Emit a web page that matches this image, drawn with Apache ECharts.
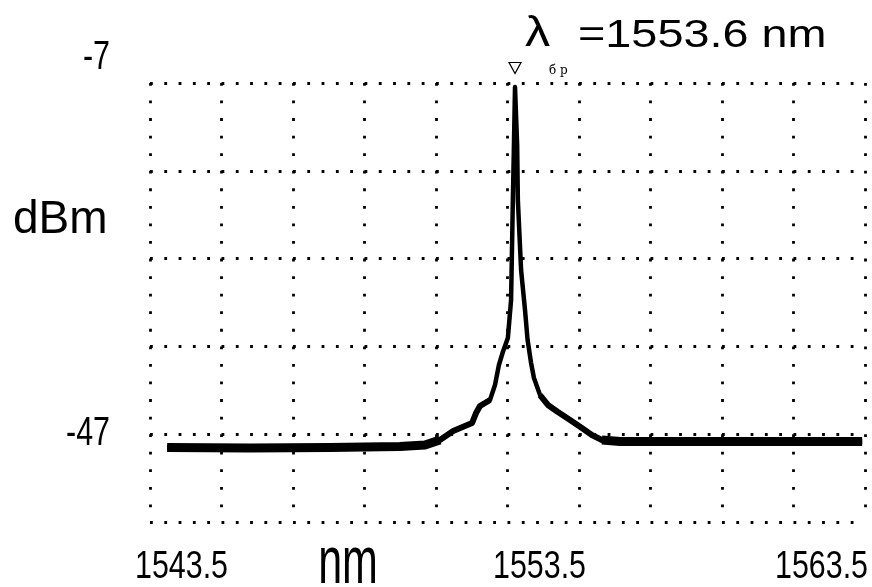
<!DOCTYPE html>
<html>
<head>
<meta charset="utf-8">
<script src="https://cdn.jsdelivr.net/npm/echarts@6/dist/echarts.min.js"></script>
<style>
  html, body { margin: 0; padding: 0; background: #fff; }
  #chart { width: 872px; height: 587px; }
</style>
</head>
<body>
<div id="chart"></div>
<script>
// spectrum trace: wavelength in nm, power in dBm
const wavelength = [
  1543.98, 1546.30, 1548.53, 1550.49, 1551.19, 1551.61, 1551.98, 1552.31,
  1552.51, 1552.62, 1552.73, 1553.01, 1553.15, 1553.26, 1553.37, 1553.51,
  1553.60, 1553.65, 1553.68, 1553.71, 1553.77, 1553.79, 1553.88, 1553.99,
  1554.06, 1554.16, 1554.24, 1554.41, 1554.63, 1554.91, 1555.25, 1555.58,
  1555.86, 1556.14, 1556.65, 1558.88, 1561.12, 1563.42
];
const power = [
  -48.51, -48.57, -48.51, -48.40, -48.23, -47.66, -46.64, -46.07,
  -45.72, -44.59, -43.79, -43.10, -41.40, -39.12, -37.64, -36.04,
  -31.72, -20.33, -14.06, -7.46, -14.06, -20.33, -28.30, -32.85,
  -36.20, -38.90, -40.60, -42.54, -43.67, -44.47, -45.38, -46.29,
  -47.09, -47.66, -47.83, -47.83, -47.83, -47.83
];
const xTickLabels = [1543.5, 1553.5, 1563.5];
const yTickLabels = [-7, -47];
const peakLabel = '=1553.6 nm';

// layout
const xLabelShift = [31.5, 32, -43.5];
const yLabelShift = [-25, 0];

const chart = echarts.init(document.getElementById('chart'));

const trace = wavelength.map((w, i) => [w, power[i]]);
// the trace gets heavier near the noise floor
const below = limit => wavelength.map((w, i) => [w, power[i] <= limit ? power[i] : '-']);

const dotsH = { color: '#000', width: 2.8, type: [2.8, 11.5] };
const dotsV = { color: '#000', width: 2.8, type: [2.8, 14.76] };

chart.setOption({
  animation: false,
  grid: { left: 150, top: 83, right: 7, bottom: 65 },
  xAxis: {
    type: 'value', min: 1543.5, max: 1563.5, interval: 2,
    axisLine: { show: false }, axisTick: { show: false }, axisLabel: { show: false },
    splitLine: { show: true, lineStyle: dotsV }
  },
  yAxis: {
    type: 'value', min: -57, max: -7, interval: 10,
    axisLine: { show: false }, axisTick: { show: false }, axisLabel: { show: false },
    splitLine: { show: true, lineStyle: dotsH }
  },
  series: [
    {
      type: 'line', data: trace, showSymbol: false, silent: true,
      lineStyle: { color: '#000', width: 4.5, join: 'round' },
      markPoint: {
        symbol: 'triangle', symbolSize: [12, 11], symbolRotate: 180,
        symbolOffset: [0, -19],
        itemStyle: { color: '#fff', borderColor: '#000', borderWidth: 1.2 },
        label: { show: false },
        data: [{ type: 'max' }]
      }
    },
    {
      type: 'line', data: below(-42), showSymbol: false, silent: true,
      lineStyle: { color: '#000', width: 6, join: 'round' }
    },
    {
      type: 'line', data: below(-47.5), showSymbol: false, silent: true,
      lineStyle: { color: '#000', width: 9, join: 'round' }
    }
  ]
});

const font = size => size + 'px "Liberation Sans", Arial, sans-serif';
const label = (text, x, y, size, align, sx, sy) => ({
  type: 'text', silent: true, x: x, y: y,
  scaleX: sx || 1, scaleY: sy || 1, originX: 0, originY: 0,
  style: { text: text, font: font(size), fill: '#000', textAlign: align, textVerticalAlign: 'middle' }
});

const graphics = [];
xTickLabels.forEach((v, i) => {
  const x = chart.convertToPixel({ xAxisIndex: 0 }, v);
  graphics.push(label(String(v), x + xLabelShift[i], 567.5, 39, 'center', 0.78));
});
yTickLabels.forEach((v, i) => {
  const y = chart.convertToPixel({ yAxisIndex: 0 }, v);
  graphics.push(label(String(v), 110, y + yLabelShift[i], 40, 'right', 0.76));
});
graphics.push(label('dBm', 13, 220, 46, 'left'));
graphics.push(label('nm', 348, 565, 43, 'center', 1, 1.55));
graphics.push(label('λ', 525, 34, 42, 'left', 1.2));
graphics.push({
  type: 'text', silent: true, x: 549, y: 71,
  style: { text: 'б р', font: '12px "DejaVu Serif", serif', fill: '#000', textAlign: 'left', textVerticalAlign: 'middle' }
});
graphics.push(label(peakLabel, 578, 36, 39, 'left', 1.2));

chart.setOption({ graphic: graphics });
</script>
</body>
</html>
